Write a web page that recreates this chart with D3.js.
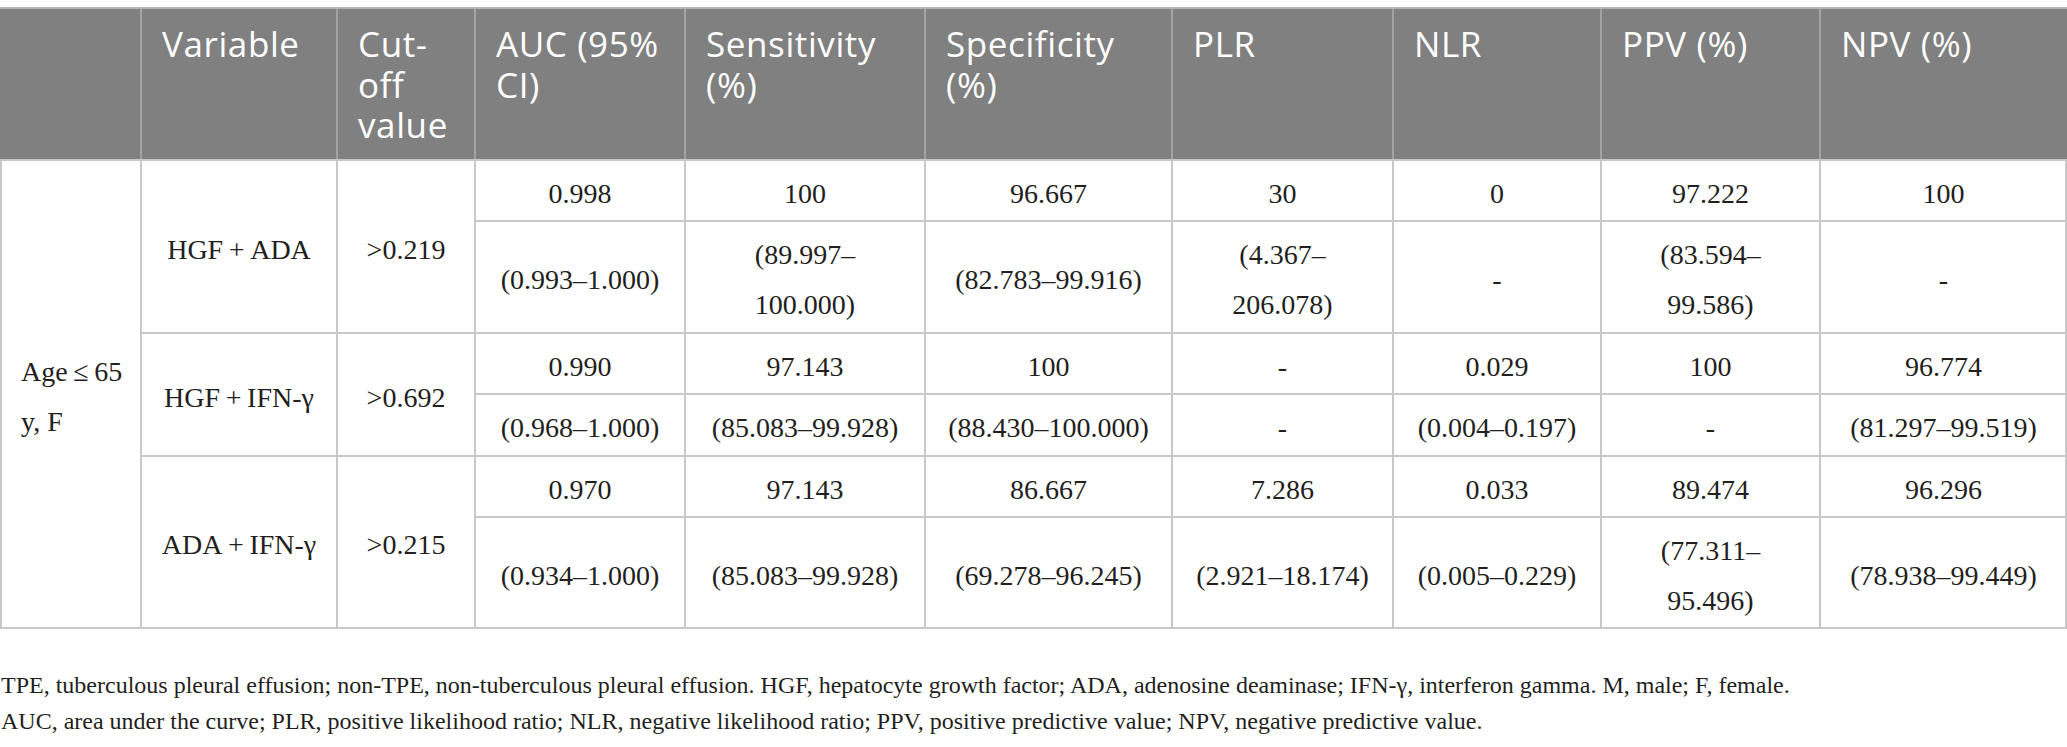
<!DOCTYPE html>
<html>
<head>
<meta charset="utf-8">
<script src="https://cdn.jsdelivr.net/npm/d3@7"></script>
<style>
  body { margin: 0; background: #fff; }
</style>
</head>
<body>
<svg id="chart" width="2067" height="747"></svg>
<script>
// table content
const headers = ["", "Variable", "Cut-\noff\nvalue", "AUC (95%\nCI)", "Sensitivity\n(%)", "Specificity\n(%)", "PLR", "NLR", "PPV (%)", "NPV (%)"];
const groupLabel = "Age\u2009≤\u200965\ny, F";
const variables = ["HGF\u2009+\u2009ADA", "HGF\u2009+\u2009IFN-γ", "ADA\u2009+\u2009IFN-γ"];
const cutoffs = [">0.219", ">0.692", ">0.215"];
const auc = ["0.998", "0.990", "0.970"];
const aucCI = ["(0.993–1.000)", "(0.968–1.000)", "(0.934–1.000)"];
const sens = ["100", "97.143", "97.143"];
const sensCI = ["(89.997–\n100.000)", "(85.083–99.928)", "(85.083–99.928)"];
const spec = ["96.667", "100", "86.667"];
const specCI = ["(82.783–99.916)", "(88.430–100.000)", "(69.278–96.245)"];
const plr = ["30", "-", "7.286"];
const plrCI = ["(4.367–\n206.078)", "-", "(2.921–18.174)"];
const nlr = ["0", "0.029", "0.033"];
const nlrCI = ["-", "(0.004–0.197)", "(0.005–0.229)"];
const ppv = ["97.222", "100", "89.474"];
const ppvCI = ["(83.594–\n99.586)", "-", "(77.311–\n95.496)"];
const npv = ["100", "96.774", "96.296"];
const npvCI = ["-", "(81.297–99.519)", "(78.938–99.449)"];
const footnotes = [
  "TPE, tuberculous pleural effusion; non-TPE, non-tuberculous pleural effusion. HGF, hepatocyte growth factor; ADA, adenosine deaminase; IFN-γ, interferon gamma. M, male; F, female.",
  "AUC, area under the curve; PLR, positive likelihood ratio; NLR, negative likelihood ratio; PPV, positive predictive value; NPV, negative predictive value."
];

// layout
const colEdges = [0, 141, 337, 475, 685, 925, 1172, 1393, 1601, 1820, 2067];
const rowEdges = [8, 160, 221, 333, 394, 456, 517, 628];
const x = d3.scaleOrdinal().domain(d3.range(colEdges.length)).range(colEdges);
const y = d3.scaleOrdinal().domain(d3.range(rowEdges.length)).range(rowEdges);

const svg = d3.select("#chart");
const W = 2067;
const serif = "'Liberation Serif', 'Times New Roman', serif";
const sans = "'Open Sans', 'Noto Sans', sans-serif";
const gridColor = "#c8c8c8";

// header band
svg.append("rect")
  .attr("x", 0).attr("y", y(0))
  .attr("width", W).attr("height", y(1) - y(0))
  .attr("fill", "#808080");

// header separators
svg.append("g").selectAll("line")
  .data(d3.range(1, colEdges.length - 1))
  .enter().append("line")
  .attr("x1", d => x(d)).attr("x2", d => x(d))
  .attr("y1", y(0)).attr("y2", y(1))
  .attr("stroke", "#a3a3a3").attr("stroke-width", 2);

svg.append("line")
  .attr("x1", 0).attr("x2", W).attr("y1", y(0)).attr("y2", y(0))
  .attr("stroke", "#b4b4b4").attr("stroke-width", 2);

// header text
svg.append("g").selectAll("text")
  .data(headers)
  .enter().append("text")
  .attr("font-family", sans)
  .attr("font-size", 35)
  .attr("letter-spacing", 0.6)
  .attr("fill", "#fff")
  .each(function (d, i) {
    d3.select(this).selectAll("tspan")
      .data(d.split("\n"))
      .enter().append("tspan")
      .attr("x", x(i) + 21)
      .attr("y", (t, k) => 57 + k * 40.5)
      .text(t => t);
  });

// body cells
const cells = [];
function addCell(c, r0, r1, text, anchor) {
  cells.push({ c: c, r0: r0, r1: r1, text: text, anchor: anchor || "middle" });
}
addCell(0, 1, 7, groupLabel, "start");
const valueCols = [auc, sens, spec, plr, nlr, ppv, npv];
const ciCols = [aucCI, sensCI, specCI, plrCI, nlrCI, ppvCI, npvCI];
variables.forEach(function (v, g) {
  const ra = 1 + 2 * g;
  addCell(1, ra, ra + 2, v);
  addCell(2, ra, ra + 2, cutoffs[g]);
  valueCols.forEach(function (col, j) {
    addCell(3 + j, ra, ra + 1, col[g]);
    addCell(3 + j, ra + 1, ra + 2, ciCols[j][g]);
  });
});

// grid lines
const hLines = [];
hLines.push({ x1: 0, x2: W, yy: y(1) });
variables.forEach(function (v, g) {
  const ra = 1 + 2 * g;
  hLines.push({ x1: x(3), x2: W, yy: y(ra + 1) });
  hLines.push({ x1: g === 2 ? 0 : x(1), x2: W, yy: y(ra + 2) });
});
svg.append("g").selectAll("line")
  .data(hLines)
  .enter().append("line")
  .attr("x1", d => d.x1).attr("x2", d => d.x2)
  .attr("y1", d => d.yy).attr("y2", d => d.yy)
  .attr("stroke", gridColor).attr("stroke-width", 2);

svg.append("g").selectAll("line")
  .data(colEdges.map((e, i) => i === 0 ? 1 : (i === colEdges.length - 1 ? W - 1 : e)))
  .enter().append("line")
  .attr("x1", d => d).attr("x2", d => d)
  .attr("y1", y(1)).attr("y2", y(7))
  .attr("stroke", gridColor).attr("stroke-width", 2);

// cell text
svg.append("g").selectAll("text")
  .data(cells)
  .enter().append("text")
  .attr("font-family", serif)
  .attr("font-size", 28)
  .attr("fill", "#231f20")
  .attr("text-anchor", d => d.anchor)
  .each(function (d) {
    const lines = d.text.split("\n");
    const cy = (y(d.r0) + y(d.r1)) / 2;
    const tx = d.anchor === "start" ? x(d.c) + 21 : (x(d.c) + x(d.c + 1)) / 2;
    d3.select(this).selectAll("tspan")
      .data(lines)
      .enter().append("tspan")
      .attr("x", tx)
      .attr("y", (t, k) => cy + 12 + (k - (lines.length - 1) / 2) * 50)
      .text(t => t);
  });

// footnotes
svg.append("g").selectAll("text")
  .data(footnotes)
  .enter().append("text")
  .attr("x", 1)
  .attr("y", (d, i) => 693 + i * 36)
  .attr("font-family", serif)
  .attr("font-size", 24)
  .attr("fill", "#231f20")
  .text(d => d);
</script>
</body>
</html>
